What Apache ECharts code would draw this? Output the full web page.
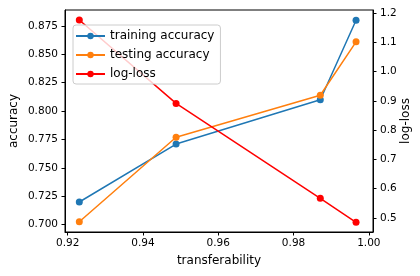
<!DOCTYPE html>
<html>
<head>
<meta charset="utf-8">
<script src="https://cdn.jsdelivr.net/npm/echarts@6/dist/echarts.min.js"></script>
<style>html,body{margin:0;padding:0;background:#fff;}#c{width:420px;height:276px;}</style>
</head>
<body>
<div id="c"></div>
<script>
const transferability = [0.9231, 0.9488, 0.9871, 0.9966];
const trainingAccuracy = [0.720, 0.771, 0.810, 0.880];
const testingAccuracy = [0.7026, 0.777, 0.814, 0.861];
const logLoss = [1.176, 0.891, 0.567, 0.485];
const xTicks = [0.92, 0.94, 0.96, 0.98, 1.00];
const accTicks = [0.700, 0.725, 0.750, 0.775, 0.800, 0.825, 0.850, 0.875];
const lossTicks = [0.5, 0.6, 0.7, 0.8, 0.9, 1.0, 1.1, 1.2];

const font = 'DejaVu Sans';
const pair = (xs, ys) => xs.map((x, i) => [x, ys[i]]);
const tickStyle = {show: true, inside: false, length: 3.5, lineStyle: {color: '#000', width: 1}};
const chart = echarts.init(document.getElementById('c'), null, {renderer: 'canvas'});
chart.setOption({
  animation: false,
  backgroundColor: '#fff',
  textStyle: {fontFamily: font},
  grid: {left: 65, right: 47, top: 10, bottom: 44, show: true, borderColor: '#000', borderWidth: 1,
         backgroundColor: 'transparent', containLabel: false, outerBoundsMode: 'none'},
  legend: {
    left: 73, top: 25, orient: 'vertical',
    backgroundColor: 'rgba(255,255,255,0.8)', borderColor: '#cccccc', borderWidth: 1, borderRadius: 3,
    padding: [5, 6, 4, 2], itemGap: 7, itemWidth: 29, itemHeight: 8,
    textStyle: {fontFamily: font, fontSize: 12, color: '#000'},
    data: ['training accuracy', 'testing accuracy', 'log-loss']
  },
  xAxis: {
    type: 'value', min: 0.9193, max: 1.0011,
    name: 'transferability', nameLocation: 'middle', nameGap: 23, nameMoveOverlap: false,
    nameTextStyle: {fontFamily: font, fontSize: 12, color: '#000'},
    axisLine: {show: true, lineStyle: {color: '#000', width: 1}},
    axisTick: Object.assign({customValues: xTicks}, tickStyle),
    axisLabel: {customValues: xTicks, fontFamily: font, fontSize: 10.5, color: '#000', margin: 6, formatter: v => v.toFixed(2)},
    splitLine: {show: false}
  },
  yAxis: [{
    type: 'value', position: 'left', min: 0.6936, max: 0.889,
    name: 'accuracy', nameLocation: 'middle', nameGap: 45, nameRotate: 90, nameMoveOverlap: false,
    nameTextStyle: {fontFamily: font, fontSize: 12, color: '#000'},
    axisLine: {show: true, lineStyle: {color: '#000', width: 1}},
    axisTick: Object.assign({customValues: accTicks}, tickStyle),
    axisLabel: {customValues: accTicks, fontFamily: font, fontSize: 10.5, color: '#000', margin: 7, formatter: v => v.toFixed(3)},
    splitLine: {show: false}
  }, {
    type: 'value', position: 'right', min: 0.452, max: 1.21,
    name: 'log-loss', nameLocation: 'middle', nameGap: 27, nameRotate: 90, nameMoveOverlap: false,
    nameTextStyle: {fontFamily: font, fontSize: 12, color: '#000'},
    axisLine: {show: true, lineStyle: {color: '#000', width: 1}},
    axisTick: Object.assign({customValues: lossTicks}, tickStyle),
    axisLabel: {customValues: lossTicks, fontFamily: font, fontSize: 10.5, color: '#000', margin: 7, formatter: v => v.toFixed(1)},
    splitLine: {show: false}
  }],
  series: [{
    name: 'training accuracy', type: 'line', yAxisIndex: 0,
    data: pair(transferability, trainingAccuracy),
    symbol: 'circle', symbolSize: 7, color: '#1f77b4',
    lineStyle: {width: 1.5, color: '#1f77b4'}, itemStyle: {color: '#1f77b4'}
  }, {
    name: 'testing accuracy', type: 'line', yAxisIndex: 0,
    data: pair(transferability, testingAccuracy),
    symbol: 'circle', symbolSize: 7, color: '#ff7f0e',
    lineStyle: {width: 1.5, color: '#ff7f0e'}, itemStyle: {color: '#ff7f0e'}
  }, {
    name: 'log-loss', type: 'line', yAxisIndex: 1,
    data: pair(transferability, logLoss),
    symbol: 'circle', symbolSize: 7, color: '#ff0000',
    lineStyle: {width: 1.5, color: '#ff0000'}, itemStyle: {color: '#ff0000'}
  }]
});
</script>
</body>
</html>
